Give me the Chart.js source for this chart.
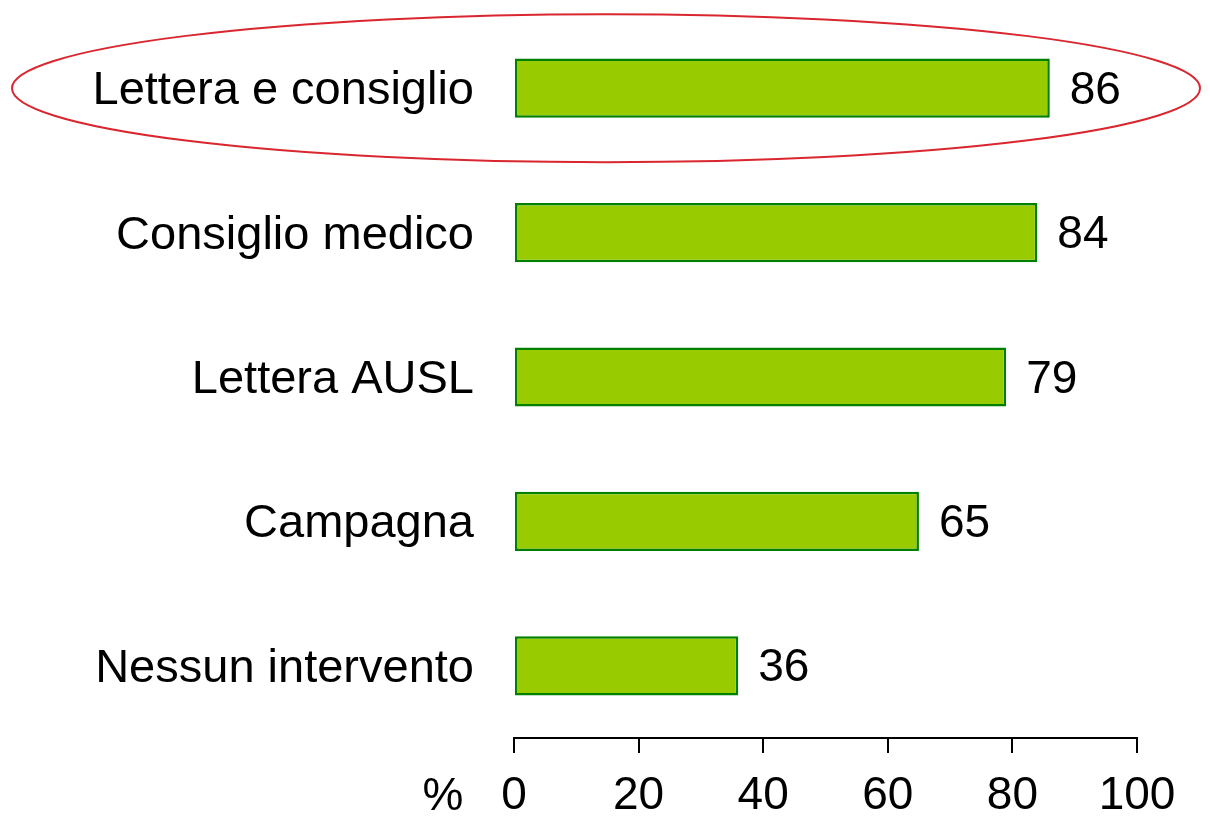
<!DOCTYPE html>
<html>
<head>
<meta charset="utf-8">
<script src="https://cdn.jsdelivr.net/npm/chart.js@4/dist/chart.umd.min.js"></script>
<style>
  html, body { margin: 0; padding: 0; background: #ffffff; }
  #wrap { width: 1210px; height: 822px; position: relative; }
</style>
</head>
<body>
<div id="wrap"><canvas id="c"></canvas></div>
<script>
const categories = ['Lettera e consiglio', 'Consiglio medico', 'Lettera AUSL', 'Campagna', 'Nessun intervento'];
const percentages = [86, 84, 79, 65, 36];
const xTicks = [0, 20, 40, 60, 80, 100];
const axisUnit = '%';

const FONT = "'Liberation Sans', Arial, sans-serif";

// Prints each bar's value just past its end
const valueLabels = {
  id: 'valueLabels',
  afterDatasetsDraw(chart) {
    const ctx = chart.ctx;
    const meta = chart.getDatasetMeta(0);
    ctx.save();
    ctx.font = '46px ' + FONT;
    ctx.fillStyle = '#000';
    ctx.textAlign = 'left';
    ctx.textBaseline = 'middle';
    meta.data.forEach((bar, i) => {
      ctx.fillText(String(percentages[i]), bar.x + 20, bar.y + 3);
    });
    ctx.restore();
  }
};

// Unit sign to the left of the x-axis tick labels, and the highlight ring around the top row
const extras = {
  id: 'extras',
  afterDraw(chart) {
    const ctx = chart.ctx;
    const xs = chart.scales.x;
    const ys = chart.scales.y;
    ctx.save();
    ctx.font = '46px ' + FONT;
    ctx.fillStyle = '#000';
    ctx.textAlign = 'center';
    ctx.textBaseline = 'middle';
    ctx.fillText(axisUnit, xs.left - 71, xs.top + 59);

    const cy = ys.getPixelForValue(0);
    ctx.beginPath();
    ctx.ellipse(chart.width / 2 + 1, cy, chart.width / 2 - 11, 74, 0, 0, Math.PI * 2);
    ctx.strokeStyle = '#d9262f';
    ctx.lineWidth = 2;
    ctx.stroke();
    ctx.restore();
  }
};

new Chart(document.getElementById('c'), {
  type: 'bar',
  data: {
    labels: categories,
    datasets: [{
      data: percentages,
      backgroundColor: '#99cc00',
      borderColor: '#008000',
      borderWidth: 2.5,
      borderSkipped: false,
      barPercentage: 0.82,
      categoryPercentage: 0.5
    }]
  },
  options: {
    indexAxis: 'y',
    responsive: true,
    maintainAspectRatio: false,
    animation: false,
    layout: { padding: { top: 16, right: 73, bottom: 0, left: 0 } },
    plugins: { legend: { display: false }, tooltip: { enabled: false } },
    scales: {
      x: {
        min: 0,
        max: 100,
        afterBuildTicks(scale) { scale.ticks = xTicks.map(v => ({ value: v })); },
        afterFit(scale) { scale.height = 84; },
        grid: { drawOnChartArea: false, drawTicks: true, tickLength: 15, color: '#000', lineWidth: 2 },
        border: { display: true, color: '#000', width: 2 },
        ticks: { color: '#000', font: { family: FONT, size: 46 }, padding: 16, maxRotation: 0, autoSkip: false }
      },
      y: {
        afterFit(scale) {
          scale.width = 514;
          scale.paddingTop = 0;
          scale.paddingBottom = 0;
        },
        grid: { display: true, drawOnChartArea: false, drawTicks: true, tickLength: 40, color: 'rgba(0,0,0,0)' },
        border: { display: false },
        ticks: { color: '#000', font: { family: FONT, size: 47 }, padding: 0, labelOffset: 3 }
      }
    }
  },
  plugins: [valueLabels, extras]
});
</script>
</body>
</html>
